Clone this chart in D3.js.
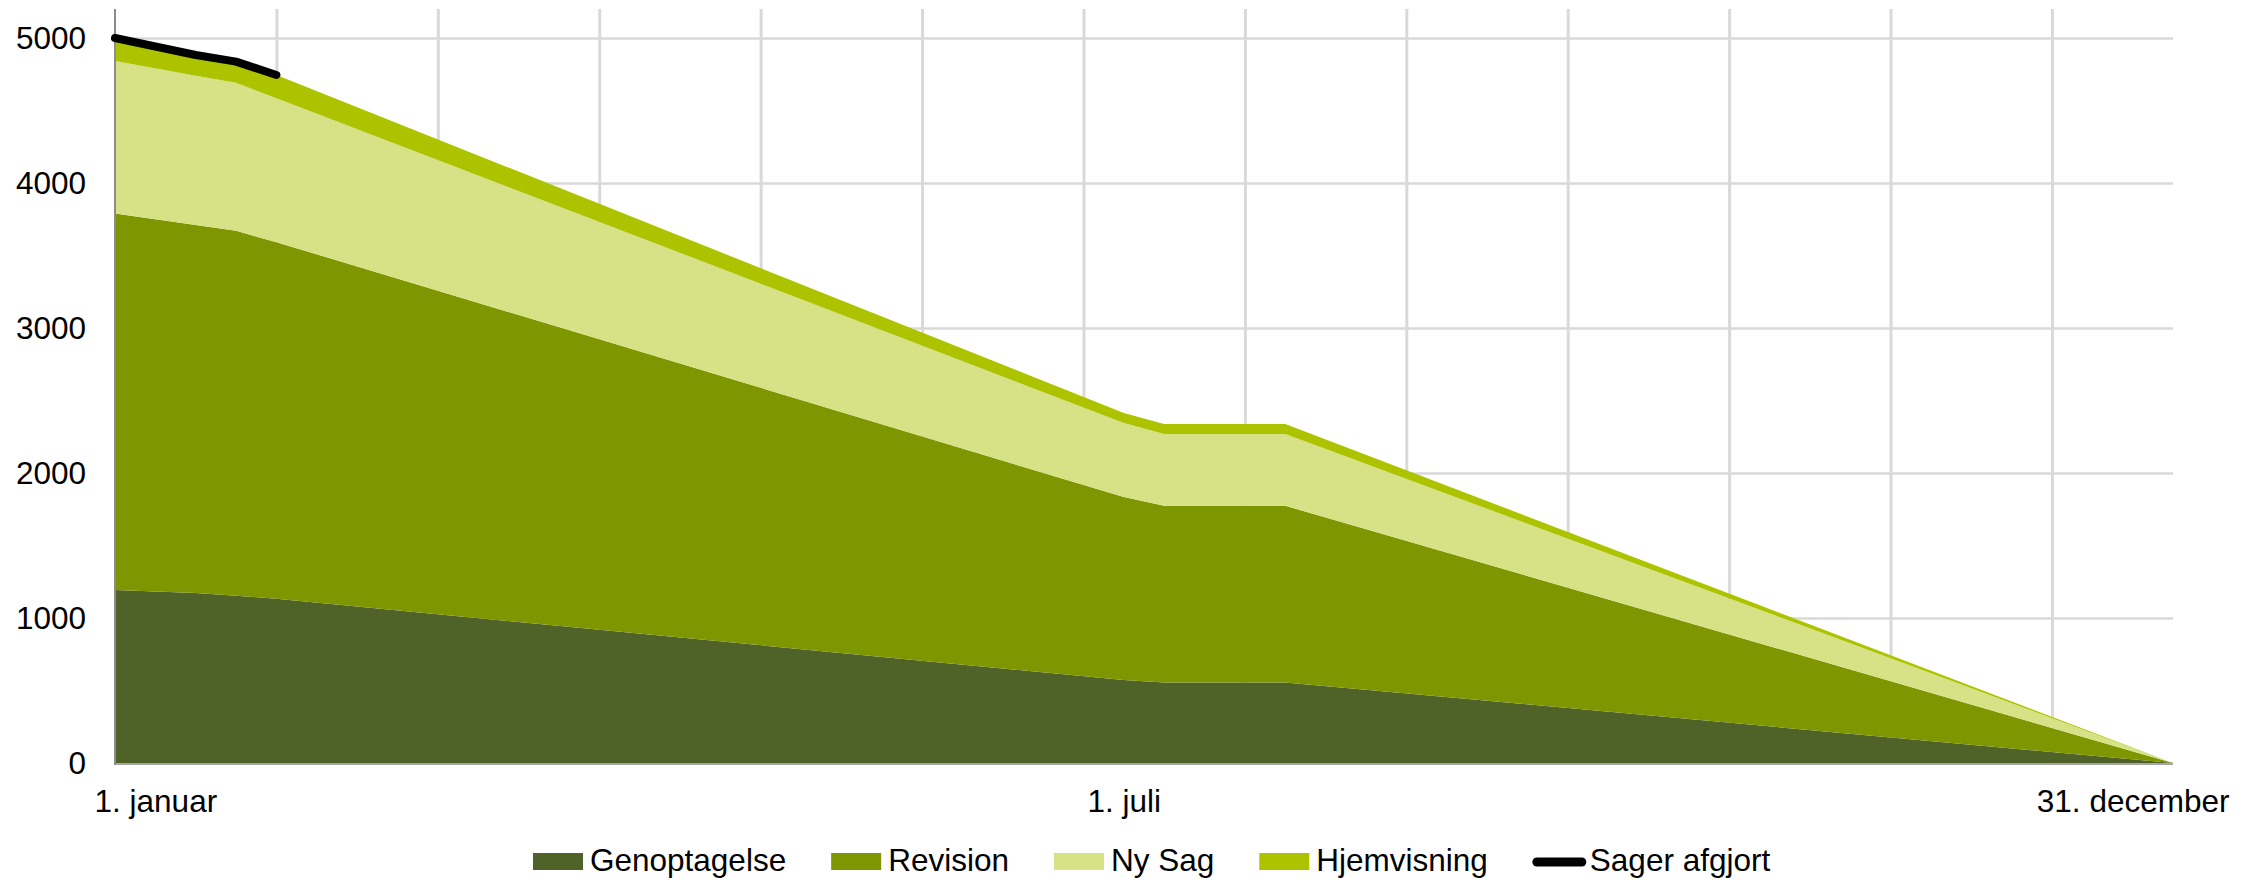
<!DOCTYPE html>
<html>
<head>
<meta charset="utf-8">
<script src="https://d3js.org/d3.v7.min.js"></script>
<style>
  body { margin: 0; background: #fff; }
  #chart text { font-family: "Liberation Sans", Arial, sans-serif; fill: #000; }
</style>
</head>
<body>
<div id="chart"></div>
<script>
// Data (x in weeks from 1. januar) ------------------------------------------>

const weeks = [0, 2, 3, 4, 25, 26, 29, 51];
const genoptagelse = [1193, 1172, 1154, 1132, 572, 556, 556, 0];
const revision = [2597, 2538, 2516, 2460, 1262, 1218, 1218, 0];
const ny_sag = [1052, 1030, 1021, 993, 511, 495, 495, 0];
const hjemvisning = [158, 143, 146, 160, 69, 69, 69, 0];

const afgjort_weeks = [0, 2, 3, 4];
const sager_afgjort = [5000, 4883, 4837, 4745];

const series_names = ['Genoptagelse', 'Revision', 'Ny Sag', 'Hjemvisning'];
const series_colors = ['#4f6228', '#7e9600', '#d6e285', '#adc300'];
const line_name = 'Sager afgjort';

const x_label_weeks = [1, 25, 50];
const x_labels = ['1. januar', '1. juli', '31. december'];
const y_ticks = [0, 1000, 2000, 3000, 4000, 5000];

// Setup ---------------------------------------------------------------------->

const width = 2260, height = 880;
const plot = {left: 115, right: 2173, top: 9, bottom: 763};
const font_size = '31.5px';

const svg = d3.select('#chart')
  .append('svg')
    .attr('width', width)
    .attr('height', height);

const x = d3.scaleLinear().domain([0, 51]).range([plot.left, plot.right]);
const y = d3.scaleLinear().domain([0, 5200]).range([plot.bottom, plot.top]);

// Gridlines ------------------------------------------------------------------>

svg.append('g')
    .attr('transform', `translate(0,${plot.bottom})`)
    .call(d3.axisBottom(x)
      .tickValues(d3.range(4, 51, 4))
      .tickSize(-(plot.bottom - plot.top))
      .tickFormat(''))
    .call(g => g.select('.domain').remove())
    .call(g => g.selectAll('line').attr('stroke', '#d9d9d9').attr('stroke-width', 3));

svg.append('g')
    .attr('transform', `translate(${plot.left},0)`)
    .call(d3.axisLeft(y)
      .tickValues(y_ticks)
      .tickSize(-(plot.right - plot.left))
      .tickPadding(29)
      .tickFormat(d3.format('d')))
    .call(g => g.select('.domain').remove())
    .call(g => g.selectAll('line').attr('stroke', '#d9d9d9').attr('stroke-width', 2.5))
    .call(g => g.selectAll('text').style('font-size', font_size));

// Stacked areas -------------------------------------------------------------->

const table = weeks.map((w, i) => ({
  week: w,
  'Genoptagelse': genoptagelse[i],
  'Revision': revision[i],
  'Ny Sag': ny_sag[i],
  'Hjemvisning': hjemvisning[i]
}));

const stacked = d3.stack().keys(series_names)(table);

const area = d3.area()
    .x(d => x(d.data.week))
    .y0(d => y(d[0]))
    .y1(d => y(d[1]));

svg.append('g')
  .selectAll('path')
  .data(stacked)
  .join('path')
    .attr('fill', (d, i) => series_colors[i])
    .attr('d', area);

// Axis lines
svg.append('line')
    .attr('x1', plot.left).attr('x2', plot.right)
    .attr('y1', plot.bottom + 1).attr('y2', plot.bottom + 1)
    .attr('stroke', '#a6a6a6')
    .attr('stroke-width', 2);
svg.append('line')
    .attr('x1', plot.left).attr('x2', plot.left)
    .attr('y1', plot.top).attr('y2', plot.bottom + 2)
    .attr('stroke', '#8c8c8c')
    .attr('stroke-width', 2);

// Sager afgjort line
const line = d3.line()
    .x((d, i) => x(afgjort_weeks[i]))
    .y(d => y(d));

svg.append('path')
    .datum(sager_afgjort)
    .attr('fill', 'none')
    .attr('stroke', '#000')
    .attr('stroke-width', 8)
    .attr('stroke-linecap', 'round')
    .attr('stroke-linejoin', 'round')
    .attr('d', line);

// X labels
svg.append('g')
    .attr('transform', `translate(0,${plot.bottom})`)
    .call(d3.axisBottom(x)
      .tickValues(x_label_weeks)
      .tickSize(0)
      .tickPadding(27)
      .tickFormat((d, i) => x_labels[i]))
    .call(g => g.select('.domain').remove())
    .call(g => g.selectAll('text').style('font-size', font_size));

// Legend --------------------------------------------------------------------->

const legend = svg.append('g')
    .attr('transform', 'translate(533,0)');
const legend_items = series_names.concat([line_name]);
let cursor = 0;

legend_items.forEach((name, i) => {
  const item = legend.append('g').attr('transform', `translate(${cursor},0)`);
  if (i < series_names.length) {
    item.append('rect')
        .attr('x', 0).attr('y', 853)
        .attr('width', 50).attr('height', 17)
        .attr('fill', series_colors[i]);
  } else {
    item.append('line')
        .attr('x1', 4).attr('x2', 49)
        .attr('y1', 862).attr('y2', 862)
        .attr('stroke', '#000')
        .attr('stroke-width', 9)
        .attr('stroke-linecap', 'round');
  }
  const label = item.append('text')
      .attr('x', 57)
      .attr('y', 871)
      .style('font-size', font_size)
      .text(name);
  cursor += 57 + label.node().getComputedTextLength() + 45;
});
</script>
</body>
</html>
